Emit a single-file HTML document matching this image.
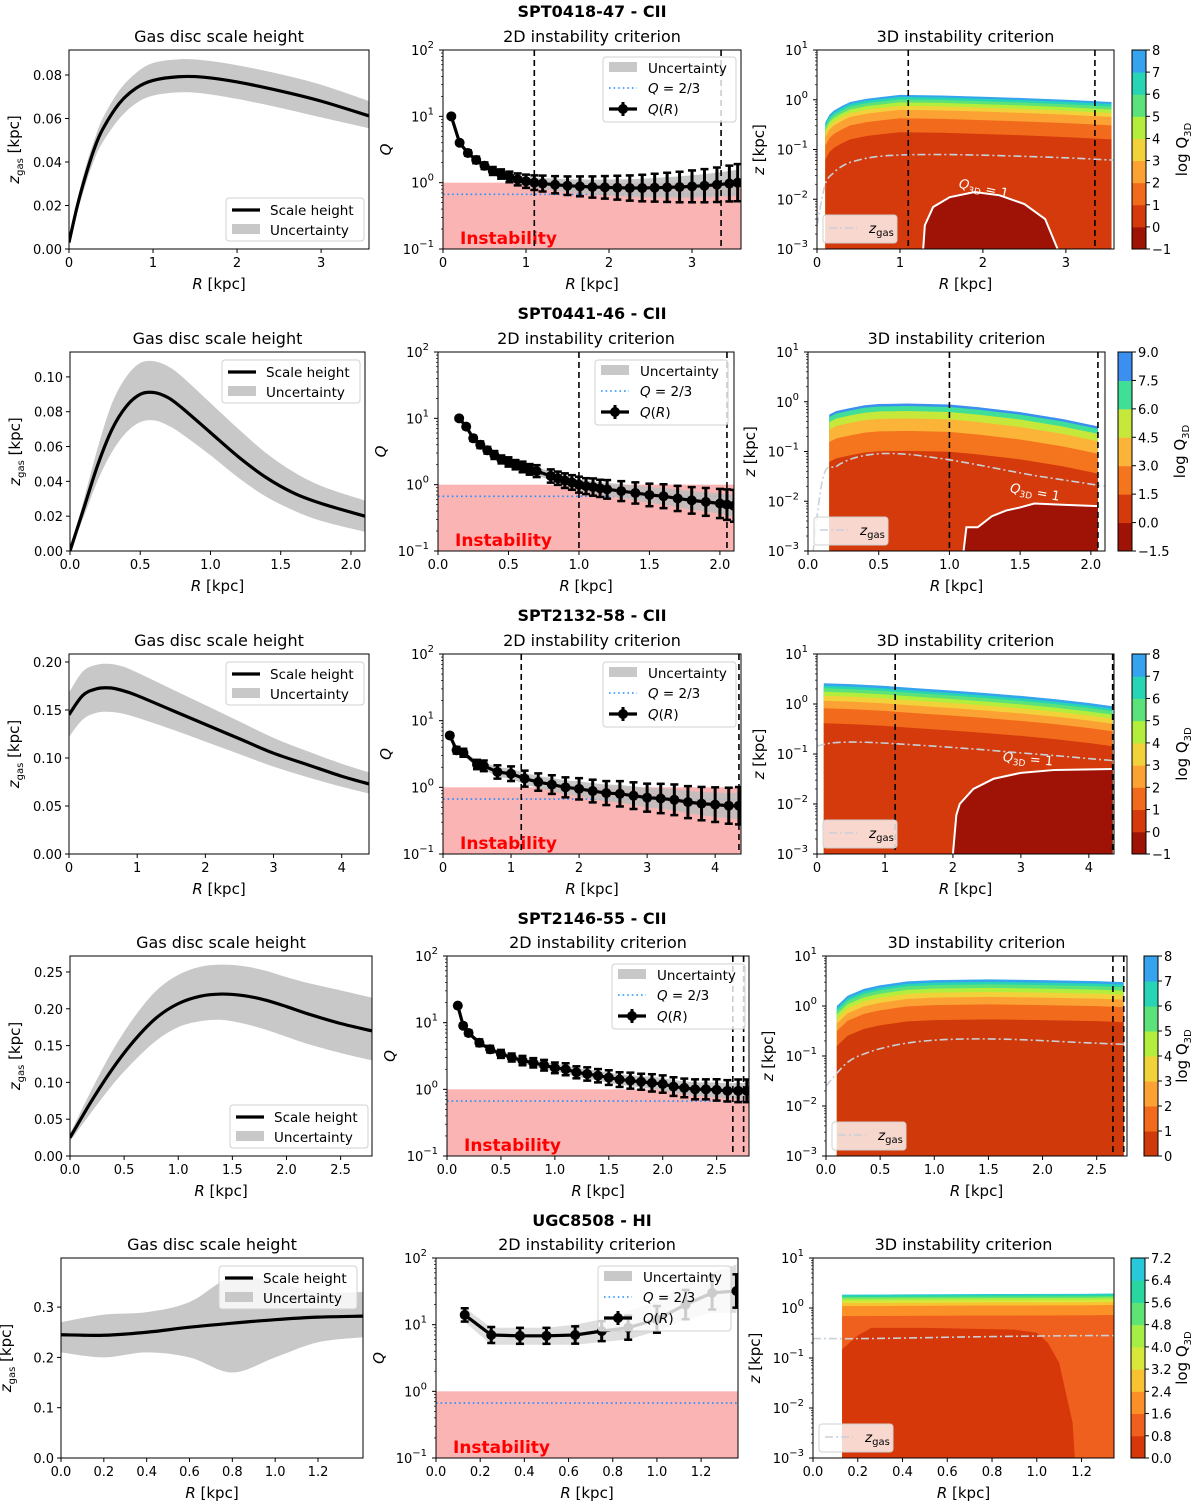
<!DOCTYPE html>
<html><head><meta charset="utf-8"><title>Instability criteria</title>
<style>
html,body{margin:0;padding:0;background:#fff;}
svg{display:block;font-family:"DejaVu Sans","Liberation Sans",sans-serif;}
</style></head>
<body>
<svg id="fig" width="1200" height="1509" viewBox="0 0 1200 1509" xmlns="http://www.w3.org/2000/svg"></svg>
<script>
// ===== Row 1: SPT0418-47 =====
const r1_R=[0,0.1,0.2,0.3,0.4,0.6,0.8,1.0,1.3,1.6,2.0,2.5,3.0,3.57];
const r1_z=[0.003,0.02,0.034,0.046,0.055,0.067,0.074,0.0775,0.0792,0.079,0.0768,0.0728,0.068,0.0612];
const r1_zlo=[0.002,0.017,0.03,0.041,0.049,0.06,0.067,0.0705,0.072,0.0715,0.069,0.065,0.0605,0.0555];
const r1_zhi=[0.004,0.023,0.038,0.05,0.06,0.073,0.081,0.0855,0.0872,0.0868,0.0845,0.0805,0.0755,0.068];
const r1_QR=[0.1,0.2,0.3,0.4,0.5,0.6,0.7,0.8,0.9,1.0,1.1,1.2,1.35,1.5,1.65,1.8,1.95,2.1,2.25,2.4,2.55,2.7,2.85,3.0,3.15,3.3,3.45,3.55];
const r1_Q=[10,4,2.8,2.2,1.8,1.5,1.35,1.22,1.12,1.05,1.0,0.97,0.93,0.9,0.88,0.86,0.85,0.84,0.83,0.83,0.84,0.85,0.86,0.88,0.9,0.93,0.97,1.0];
const r1_Qerr=[0.02,0.03,0.04,0.05,0.05,0.06,0.07,0.08,0.09,0.1,0.11,0.12,0.13,0.14,0.15,0.16,0.17,0.18,0.19,0.2,0.21,0.22,0.23,0.24,0.25,0.26,0.27,0.28];
const r1_vlines=[1.1,3.35];
const r1_R3=[0.1,0.15,0.2,0.3,0.4,0.6,0.8,1.0,1.5,2.0,2.5,3.0,3.55];
const r1_zTop=[0.35,0.5,0.6,0.75,0.9,1.05,1.15,1.25,1.22,1.15,1.08,1.0,0.9];
const r1_drops=[0,0.04,0.09,0.15,0.22,0.3,0.47,0.75];
const r1_blobR=[1.28,1.3,1.4,1.6,1.9,2.2,2.5,2.75,2.9];
const r1_blobZ=[0.001,0.003,0.007,0.011,0.014,0.012,0.008,0.004,0.001];
const r1_cbTicks=["−1","0","1","2","3","4","5","6","7","8"];
const r1_colors=["#9e1305","#d43a0b","#f26b1d","#fca234","#f2d23a","#b4ee3d","#5be27a","#27d4b5","#35a3ee"];

// ===== Row 2: SPT0441-46 =====
const r2_R=[0,0.1,0.2,0.3,0.4,0.5,0.6,0.7,0.8,1.0,1.2,1.4,1.6,1.8,2.1];
const r2_z=[0.0,0.025,0.05,0.07,0.083,0.09,0.091,0.088,0.082,0.068,0.054,0.042,0.033,0.027,0.02];
const r2_zlo=[0.0,0.02,0.041,0.057,0.068,0.074,0.075,0.072,0.067,0.055,0.042,0.031,0.023,0.017,0.011];
const r2_zhi=[0.0,0.03,0.06,0.085,0.1,0.108,0.109,0.106,0.1,0.085,0.07,0.056,0.045,0.037,0.029];
const r2_QR=[0.15,0.2,0.25,0.3,0.35,0.4,0.45,0.5,0.55,0.6,0.65,0.7,0.8,0.85,0.9,0.95,1.0,1.05,1.1,1.15,1.2,1.3,1.4,1.5,1.6,1.7,1.8,1.9,2.0,2.05,2.1];
const r2_Q=[10,7.5,5,4,3.3,2.8,2.4,2.2,2.0,1.85,1.7,1.6,1.35,1.25,1.15,1.08,1.0,0.95,0.92,0.88,0.85,0.8,0.75,0.7,0.67,0.62,0.58,0.55,0.52,0.5,0.48];
const r2_Qerr=[0.02,0.03,0.04,0.05,0.05,0.06,0.06,0.07,0.07,0.08,0.08,0.09,0.1,0.1,0.11,0.11,0.12,0.12,0.13,0.13,0.14,0.15,0.16,0.17,0.18,0.19,0.2,0.21,0.22,0.23,0.24];
const r2_vlines=[1.0,2.05];
const r2_R3=[0.15,0.2,0.3,0.4,0.5,0.7,1.0,1.2,1.5,1.8,2.05];
const r2_zTop=[0.55,0.65,0.75,0.85,0.9,0.92,0.88,0.78,0.62,0.45,0.32];
const r2_drops=[0,0.05,0.15,0.3,0.55,0.95];
const r2_blobR=[1.1,1.12,1.2,1.3,1.4,1.5,1.6,1.8,2.05];
const r2_blobZ=[0.001,0.003,0.003,0.005,0.0065,0.0075,0.009,0.0085,0.008];
const r2_cbTicks=["−1.5","0.0","1.5","3.0","4.5","6.0","7.5","9.0"];
const r2_colors=["#9e1305","#d43a0b","#f5751f","#fbb437","#c6e83b","#3fdf98","#3b8ff0"];

// ===== Row 3: SPT2132-58 =====
const r3_R=[0,0.2,0.4,0.6,0.8,1.0,1.5,2.0,2.5,3.0,3.5,4.0,4.4];
const r3_z=[0.145,0.165,0.172,0.173,0.17,0.165,0.15,0.135,0.12,0.105,0.093,0.081,0.073];
const r3_zlo=[0.122,0.14,0.147,0.148,0.146,0.142,0.13,0.117,0.104,0.091,0.08,0.07,0.063];
const r3_zhi=[0.168,0.19,0.197,0.198,0.195,0.189,0.172,0.155,0.138,0.121,0.107,0.094,0.085];
const r3_QR=[0.1,0.2,0.3,0.5,0.6,0.8,1.0,1.2,1.4,1.6,1.8,2.0,2.2,2.4,2.6,2.8,3.0,3.2,3.4,3.6,3.8,4.0,4.2,4.35];
const r3_Q=[6,3.6,3.3,2.2,2.1,1.7,1.6,1.35,1.2,1.1,1.0,0.95,0.88,0.82,0.8,0.75,0.7,0.68,0.65,0.6,0.57,0.55,0.53,0.53];
const r3_Qerr=[0.03,0.05,0.06,0.07,0.08,0.1,0.11,0.12,0.13,0.14,0.15,0.16,0.17,0.18,0.19,0.2,0.21,0.22,0.23,0.24,0.25,0.26,0.27,0.28];
const r3_vlines=[1.15,4.35];
const r3_R3=[0.1,0.5,1.0,1.5,2.0,2.5,3.0,3.5,4.0,4.35];
const r3_zTop=[2.6,2.5,2.3,2.05,1.85,1.65,1.45,1.25,1.05,0.9];
const r3_drops=[0,0.05,0.1,0.17,0.25,0.35,0.5,0.8];
const r3_blobR=[2.0,2.05,2.1,2.3,2.6,3.0,3.5,4.35];
const r3_blobZ=[0.001,0.006,0.01,0.02,0.032,0.042,0.048,0.05];
const r3_cbTicks=["−1","0","1","2","3","4","5","6","7","8"];
const r3_colors=["#9e1305","#d43a0b","#f26b1d","#fca234","#f2d23a","#b4ee3d","#5be27a","#27d4b5","#35a3ee"];

// ===== Row 4: SPT2146-55 =====
const r4_R=[0,0.2,0.4,0.6,0.8,1.0,1.2,1.4,1.6,1.8,2.0,2.2,2.5,2.79];
const r4_z=[0.025,0.075,0.12,0.158,0.188,0.207,0.217,0.22,0.218,0.212,0.203,0.193,0.18,0.17];
const r4_zlo=[0.02,0.06,0.098,0.13,0.157,0.175,0.183,0.185,0.18,0.172,0.162,0.152,0.14,0.13];
const r4_zhi=[0.03,0.09,0.145,0.19,0.225,0.246,0.257,0.26,0.258,0.252,0.243,0.235,0.225,0.215];
const r4_QR=[0.1,0.15,0.2,0.3,0.4,0.5,0.6,0.7,0.8,0.9,1.0,1.1,1.2,1.3,1.4,1.5,1.6,1.7,1.8,1.9,2.0,2.1,2.2,2.3,2.4,2.5,2.6,2.7,2.78];
const r4_Q=[18,9,7,5,4,3.4,3,2.7,2.5,2.3,2.1,2,1.8,1.7,1.6,1.5,1.4,1.35,1.3,1.25,1.2,1.1,1.05,1.0,1.0,0.98,0.95,0.95,0.95];
const r4_Qerr=[0.02,0.03,0.04,0.05,0.05,0.06,0.06,0.07,0.07,0.08,0.08,0.09,0.09,0.1,0.1,0.11,0.11,0.12,0.12,0.13,0.13,0.14,0.14,0.15,0.15,0.16,0.16,0.17,0.17];
const r4_vlines=[2.65,2.75];
const r4_R3=[0.1,0.2,0.35,0.5,0.75,1.0,1.5,2.0,2.5,2.75];
const r4_zTop=[1.0,1.6,2.2,2.6,3.1,3.3,3.4,3.3,3.15,3.0];
const r4_drops=[0,0.05,0.1,0.17,0.25,0.35,0.5,0.8];
const r4_blobR=[];
const r4_blobZ=[];
const r4_cbTicks=["0","1","2","3","4","5","6","7","8"];
const r4_colors=["#d03a0b","#f26b1d","#fca234","#f2d23a","#b4ee3d","#5be27a","#27d4b5","#35a3ee"];

// ===== Row 5: UGC8508 =====
const r5_R=[0,0.2,0.4,0.6,0.8,1.0,1.2,1.41];
const r5_z=[0.245,0.244,0.25,0.26,0.268,0.275,0.28,0.282];
const r5_zlo=[0.21,0.2,0.21,0.2,0.17,0.2,0.23,0.24];
const r5_zhi=[0.27,0.285,0.29,0.31,0.36,0.35,0.33,0.33];
const r5_QR=[0.13,0.25,0.38,0.5,0.63,0.75,0.87,1.0,1.13,1.25,1.36];
const r5_Q=[14,7,6.8,6.8,7,8,9,12,20,30,32];
const r5_Qerr=[0.1,0.12,0.12,0.12,0.13,0.15,0.18,0.2,0.22,0.25,0.25];
const r5_QbandLo=[11,5,5,5,5,5.5,6,8,12,15,15];
const r5_QbandHi=[18,9,9,9,10,12,16,22,40,60,80];
const r5_vlines=[];
const r5_R3=[0.13,0.4,0.8,1.2,1.345];
const r5_zTop=[1.85,1.87,1.9,1.92,1.95];
const r5_drops=[0,0.02,0.05,0.08,0.12,0.17,0.23,0.43];
const r5_blobR=[0.13,0.13,0.2,0.26,0.5,0.9,1.0,1.05,1.1,1.13,1.16,1.17];
const r5_blobZ=[0.001,0.15,0.28,0.4,0.4,0.37,0.32,0.2,0.08,0.02,0.005,0.001];
const r5_cbTicks=["0.0","0.8","1.6","2.4","3.2","4.0","4.8","5.6","6.4","7.2"];
const r5_colors=["#d6380a","#ef5f1d","#fb9029","#f9c233","#d8e83a","#a6ee45","#5de474","#2ad6a0","#28c8d8"];

const NS='http://www.w3.org/2000/svg';
const svg=document.getElementById('fig');
function mk(tag,attrs,parent){const e=document.createElementNS(NS,tag);for(const k in attrs)e.setAttribute(k,attrs[k]);(parent||svg).appendChild(e);return e;}
function txt(parent,x,y,str,size,anchor,extra){const t=mk('text',Object.assign({x:x,y:y,'font-size':size,'text-anchor':anchor||'middle',fill:'#000'},extra||{}),parent);t.textContent=str;return t;}
function linS(a,b,p,q){return v=>p+(v-a)/(b-a)*(q-p);}
function logS(a,b,p,q){return v=>p+(Math.log10(v)-a)/(b-a)*(q-p);}
function smooth(pts){if(pts.length<2)return '';let d='M'+pts[0][0]+','+pts[0][1];for(let i=0;i<pts.length-1;i++){const p0=pts[i-1]||pts[i],p1=pts[i],p2=pts[i+1],p3=pts[i+2]||p2;d+=' C'+(p1[0]+(p2[0]-p0[0])/6)+','+(p1[1]+(p2[1]-p0[1])/6)+' '+(p2[0]-(p3[0]-p1[0])/6)+','+(p2[1]-(p3[1]-p1[1])/6)+' '+p2[0]+','+p2[1];}return d;}
function poly(pts){return pts.map((p,i)=>(i?'L':'M')+p[0]+','+p[1]).join(' ')+' Z';}
let clipN=0;
function clipFor(g,b){const id='c'+(clipN++);const cp=mk('clipPath',{id:id},g);mk('rect',{x:b[0],y:b[1],width:b[2]-b[0],height:b[3]-b[1]},cp);const inner=mk('g',{'clip-path':'url(#'+id+')'},g);return inner;}

function xAxis(g,b,sx,ticks,dec){
  ticks.forEach(t=>{const x=sx(t);mk('line',{x1:x,x2:x,y1:b[3],y2:b[3]+4,stroke:'#000','stroke-width':1},g);txt(g,x,b[3]+18,t.toFixed(dec),13);});
  const l=txt(g,(b[0]+b[2])/2,b[3]+40,'',15);
  const i=mk('tspan',{'font-style':'italic'},l);i.textContent='R';const r=mk('tspan',{},l);r.textContent=' [kpc]';
  
  
}
function yLogAxis(g,b,sy,a,c){
  for(let e=a;e<=c;e++){const y=sy(Math.pow(10,e));mk('line',{x1:b[0]-4,x2:b[0],y1:y,y2:y,stroke:'#000'},g);
    const t=txt(g,b[0]-9,y+5,'10',13,'end');const s=mk('tspan',{dy:-7,'font-size':10},t);s.textContent=e<0?'−'+(-e):String(e);
    if(e<c)for(let m=2;m<10;m++){const ym=sy(m*Math.pow(10,e));mk('line',{x1:b[0]-2,x2:b[0],y1:ym,y2:ym,stroke:'#000','stroke-width':0.7},g);}}
}
function frame(g,b){mk('rect',{x:b[0],y:b[1],width:b[2]-b[0],height:b[3]-b[1],fill:'none',stroke:'#000','stroke-width':1},g);}
function legendBox(g,x,y,w,h){mk('rect',{x:x,y:y,width:w,height:h,rx:3,fill:'#fff','fill-opacity':0.8,stroke:'#d0d0d0','stroke-width':1},g);}

function leftPanel(cfg){
  const g=mk('g',{});
  
  
  const b=cfg.box,sx=linS(0,cfg.xmax,b[0],b[2]),sy=linS(0,cfg.ymax,b[3],b[1]);
  txt(g,(b[0]+b[2])/2,b[1]-8,'Gas disc scale height',16);
  const c=clipFor(g,b);
  const hi=cfg.R.map((r,i)=>[sx(r),sy(cfg.zhi[i])]),lo=cfg.R.map((r,i)=>[sx(r),sy(cfg.zlo[i])]).reverse();
  const band=mk('path',{d:smooth(hi)+' L'+smooth(lo).slice(1)+' Z',fill:'#c8c8c8'},c);
  
  
  const ln=mk('path',{d:smooth(cfg.R.map((r,i)=>[sx(r),sy(cfg.z[i])])),fill:'none',stroke:'#000','stroke-width':3.2},c);
  
  
  frame(g,b);
  xAxis(g,b,sx,cfg.xt,cfg.xdec);
  cfg.yt.forEach(t=>{const y=sy(t);mk('line',{x1:b[0]-4,x2:b[0],y1:y,y2:y,stroke:'#000'},g);txt(g,b[0]-7,y+5,t.toFixed(cfg.ydec),13,'end');});
  const yl=txt(g,0,0,'',15,'middle',{transform:'translate('+(b[0]-50)+','+((b[1]+b[3])/2)+') rotate(-90)'});
  const z=mk('tspan',{'font-style':'italic'},yl);z.textContent='z';const s=mk('tspan',{'font-size':10,dy:4},yl);s.textContent='gas';const k=mk('tspan',{dy:-4},yl);k.textContent=' [kpc]';
  
  
  const L=mk('g',{},g);
  
  
  const [lx,ly]=cfg.leg;legendBox(L,lx,ly,138,43);
  mk('line',{x1:lx+6,x2:lx+34,y1:ly+12,y2:ly+12,stroke:'#000','stroke-width':3.2},L);txt(L,lx+44,ly+17,'Scale height',13.5,'start');
  mk('rect',{x:lx+6,y:ly+26,width:28,height:10,fill:'#c8c8c8'},L);txt(L,lx+44,ly+37,'Uncertainty',13.5,'start');
}

function midPanel(cfg){
  const g=mk('g',{});
  
  
  const b=cfg.box,sx=linS(0,cfg.xmax,b[0],b[2]),sy=logS(-1,2,b[3],b[1]);
  txt(g,(b[0]+b[2])/2,b[1]-8,'2D instability criterion',16);
  const c=clipFor(g,b);
  mk('rect',{x:b[0],y:sy(1),width:b[2]-b[0],height:sy(0.1)-sy(1),fill:'#fbb4b4'},c);
  const it=txt(c,b[0]+17,b[3]-5,'Instability',17,'start',{fill:'#ff0000','font-weight':'bold'});
  
  
  mk('line',{x1:b[0],x2:b[2],y1:sy(2/3),y2:sy(2/3),stroke:'#1e90ff','stroke-width':1.6,'stroke-dasharray':'1.6 3'},c);
  const bl=cfg.blo||cfg.Q.map((q,i)=>q*Math.pow(10,-cfg.err[i]*0.7)),bh=cfg.bhi||cfg.Q.map((q,i)=>q*Math.pow(10,cfg.err[i]*0.7));
  const hi=cfg.R.map((r,i)=>[sx(r),sy(bh[i])]),lo=cfg.R.map((r,i)=>[sx(r),sy(bl[i])]).reverse();
  mk('path',{d:poly(hi.concat(lo)),fill:cfg.blo?'#d8d8d8':'#bdbdbd','fill-opacity':0.85},c);
  cfg.vl.forEach(v=>mk('line',{x1:sx(v),x2:sx(v),y1:b[1],y2:b[3],stroke:'#000','stroke-width':1.6,'stroke-dasharray':'6 4'},c));
  const ql=mk('path',{d:poly(cfg.R.map((r,i)=>[sx(r),sy(cfg.Q[i])])).slice(0,-2),fill:'none',stroke:'#000','stroke-width':3.2},c);
  
  
  cfg.R.forEach((r,i)=>{const x=sx(r),y1=sy(cfg.Q[i]*Math.pow(10,cfg.err[i])),y2=sy(cfg.Q[i]*Math.pow(10,-cfg.err[i]));
    mk('line',{x1:x,x2:x,y1:y1,y2:y2,stroke:'#000','stroke-width':3},c);
    mk('line',{x1:x-4,x2:x+4,y1:y1,y2:y1,stroke:'#000','stroke-width':2.5},c);
    mk('line',{x1:x-4,x2:x+4,y1:y2,y2:y2,stroke:'#000','stroke-width':2.5},c);
    const m=mk('circle',{cx:x,cy:sy(cfg.Q[i]),r:5,fill:'#000'},c);
    
    });
  frame(g,b);
  xAxis(g,b,sx,cfg.xt,cfg.xdec);
  yLogAxis(g,b,sy,-1,2);
  const yl=txt(g,0,0,'Q',15,'middle',{'font-style':'italic',transform:'translate('+(b[0]-52)+','+((b[1]+b[3])/2)+') rotate(-90)'});
  
  
  const L=mk('g',{},g);
  
  
  const [lx,ly]=cfg.leg;legendBox(L,lx,ly,133,65);
  mk('rect',{x:lx+6,y:ly+5,width:28,height:10,fill:'#c8c8c8'},L);txt(L,lx+45,ly+16,'Uncertainty',13.5,'start');
  mk('line',{x1:lx+6,x2:lx+34,y1:ly+31,y2:ly+31,stroke:'#1e90ff','stroke-width':1.6,'stroke-dasharray':'1.6 3'},L);
  const t2=txt(L,lx+45,ly+36,'',13.5,'start');const a=mk('tspan',{'font-style':'italic'},t2);a.textContent='Q';const a2=mk('tspan',{},t2);a2.textContent=' = 2/3';
  mk('line',{x1:lx+6,x2:lx+34,y1:ly+52,y2:ly+52,stroke:'#000','stroke-width':3.2},L);
  mk('line',{x1:lx+20,x2:lx+20,y1:ly+45,y2:ly+59,stroke:'#000','stroke-width':3},L);
  mk('circle',{cx:lx+20,cy:ly+52,r:5,fill:'#000'},L);
  const t3=txt(L,lx+45,ly+57,'',13.5,'start');const q=mk('tspan',{'font-style':'italic'},t3);q.textContent='Q';const q2=mk('tspan',{},t3);q2.textContent='(';const q3=mk('tspan',{'font-style':'italic'},t3);q3.textContent='R';const q4=mk('tspan',{},t3);q4.textContent=')';
}

function rightPanel(cfg){
  const g=mk('g',{});
  
  
  const b=cfg.box,sx=linS(0,cfg.xmax,b[0],b[2]),sy=logS(-3,1,b[3],b[1]);
  txt(g,(b[0]+b[2])/2,b[1]-8,'3D instability criterion',16);
  const c=clipFor(g,b);
  const n=cfg.drops.length,cols=cfg.colors;
  for(let k=0;k<n;k++){
    const col=cols[cols.length-1-k];
    const top=cfg.R3.map((r,i)=>[sx(r),sy(cfg.zTop[i]*Math.pow(10,-cfg.drops[k]))]);
    const pts=top.concat([[sx(cfg.R3[cfg.R3.length-1]),b[3]+2],[sx(cfg.R3[0]),b[3]+2]]);
    const p=mk('path',{d:poly(pts),fill:col},c);
    
    
  }
  if(cfg.blobR.length){
    const bp=cfg.blobR.map((r,i)=>[sx(r),sy(cfg.blobZ[i])]);
    const pts=bp.concat([[bp[bp.length-1][0],b[3]+2],[bp[0][0],b[3]+2]]);
    const bl=mk('path',{d:poly(pts),fill:cols[0]},c);
    
    
    if(cfg.lab){
      mk('path',{d:poly(bp).slice(0,-2),fill:'none',stroke:'#fff','stroke-width':2},c);
      const lx=sx(cfg.lab[0]),ly=sy(cfg.lab[1]);
      const t=txt(c,lx,ly,'',13,'middle',{fill:'#fff',transform:'rotate('+cfg.lab[2]+' '+lx+' '+ly+')'});
      const q=mk('tspan',{'font-style':'italic'},t);q.textContent='Q';const s=mk('tspan',{'font-size':9,dy:3},t);s.textContent='3D';const e=mk('tspan',{dy:-3},t);e.textContent=' = 1';
      
      
    }
  }
  const zg=mk('path',{d:smooth(cfg.R.map((r,i)=>[sx(r),sy(Math.max(cfg.z[i],1e-4))])),fill:'none',stroke:'#c8d0d8','stroke-width':1.6,'stroke-dasharray':'8 3 2 3'},c);
  
  
  cfg.vl.forEach(v=>mk('line',{x1:sx(v),x2:sx(v),y1:b[1],y2:b[3],stroke:'#000','stroke-width':1.6,'stroke-dasharray':'6 4'},c));
  frame(g,b);
  xAxis(g,b,sx,cfg.xt,cfg.xdec);
  yLogAxis(g,b,sy,-3,1);
  const yl=txt(g,0,0,'',15,'middle',{transform:'translate('+(b[0]-53)+','+((b[1]+b[3])/2)+') rotate(-90)'});
  const zz=mk('tspan',{'font-style':'italic'},yl);zz.textContent='z';const kk=mk('tspan',{},yl);kk.textContent=' [kpc]';
  
  
  const L=mk('g',{},g);
  
  
  const lx=b[0]+6,ly=b[3]-34;legendBox(L,lx,ly,74,28);
  mk('line',{x1:lx+6,x2:lx+34,y1:ly+13,y2:ly+13,stroke:'#c8d0d8','stroke-width':1.6,'stroke-dasharray':'8 3 2 3'},L);
  const t=txt(L,lx+46,ly+18,'',13.5,'start');const z1=mk('tspan',{'font-style':'italic'},t);z1.textContent='z';const z2=mk('tspan',{'font-size':10,dy:3},t);z2.textContent='gas';
  const cb=mk('g',{},g);
  
  
  const cx=cfg.cbx,nb=cols.length,h=(b[3]-b[1])/nb;
  cols.forEach((col,i)=>mk('rect',{x:cx,y:b[3]-(i+1)*h,width:14,height:h+0.5,fill:col},cb));
  mk('rect',{x:cx,y:b[1],width:14,height:b[3]-b[1],fill:'none',stroke:'#000'},cb);
  cfg.cbTicks.forEach((lab,i)=>{const y=b[3]-i*h;mk('line',{x1:cx+14,x2:cx+18,y1:y,y2:y,stroke:'#000'},cb);txt(cb,cx+20,y+5,lab,13,'start');});
  const lt=txt(cb,0,0,'log Q',15,'middle',{transform:'translate('+cfg.cbLabX+','+((b[1]+b[3])/2)+') rotate(-90)'});
  const sb=mk('tspan',{'font-size':10,dy:4},lt);sb.textContent='3D';
}

function rowTitle(y,str){const t=txt(svg,592,y,str,16,'middle',{'font-weight':'bold'});
  
  }

const rows=[
 {t:'SPT0418-47 - CII',ty:17,
  L:{box:[69,50,369,249],xmax:3.57,ymax:0.0915,xt:[0,1,2,3],xdec:0,yt:[0,0.02,0.04,0.06,0.08],ydec:2,leg:[226,198],R:r1_R,z:r1_z,zlo:r1_zlo,zhi:r1_zhi},
  M:{box:[443,50,741,249],xmax:3.59,xt:[0,1,2,3],xdec:0,R:r1_QR,Q:r1_Q,err:r1_Qerr,vl:r1_vlines,leg:[603,57]},
  Rt:{box:[817,50,1114,249],xmax:3.58,xt:[0,1,2,3],xdec:0,R3:r1_R3,zTop:r1_zTop,drops:r1_drops,blobR:r1_blobR,blobZ:r1_blobZ,lab:[2.0,0.0135,12],colors:r1_colors,cbTicks:r1_cbTicks,vl:r1_vlines,R:r1_R,z:r1_z,cbx:1132,cbLabX:1187}},
 {t:'SPT0441-46 - CII',ty:319,
  L:{box:[70,352,365,551],xmax:2.1,ymax:0.1143,xt:[0,0.5,1,1.5,2],xdec:1,yt:[0,0.02,0.04,0.06,0.08,0.1],ydec:2,leg:[222,360],R:r2_R,z:r2_z,zlo:r2_zlo,zhi:r2_zhi},
  M:{box:[438,352,734,551],xmax:2.1,xt:[0,0.5,1,1.5,2],xdec:1,R:r2_QR,Q:r2_Q,err:r2_Qerr,vl:r2_vlines,leg:[595,360]},
  Rt:{box:[808,352,1105,551],xmax:2.1,xt:[0,0.5,1,1.5,2],xdec:1,R3:r2_R3,zTop:r2_zTop,drops:r2_drops,blobR:r2_blobR,blobZ:r2_blobZ,lab:[1.6,0.0125,10],colors:r2_colors,cbTicks:r2_cbTicks,vl:r2_vlines,R:r2_R,z:r2_z,cbx:1118,cbLabX:1185}},
 {t:'SPT2132-58 - CII',ty:621,
  L:{box:[69,654,369,854],xmax:4.4,ymax:0.2083,xt:[0,1,2,3,4],xdec:0,yt:[0,0.05,0.1,0.15,0.2],ydec:2,leg:[226,662],R:r3_R,z:r3_z,zlo:r3_zlo,zhi:r3_zhi},
  M:{box:[443,654,741,854],xmax:4.38,xt:[0,1,2,3,4],xdec:0,R:r3_QR,Q:r3_Q,err:r3_Qerr,vl:r3_vlines,leg:[603,662]},
  Rt:{box:[817,654,1114,854],xmax:4.37,xt:[0,1,2,3,4],xdec:0,R3:r3_R3,zTop:r3_zTop,drops:r3_drops,blobR:r3_blobR,blobZ:r3_blobZ,lab:[3.1,0.065,5],colors:r3_colors,cbTicks:r3_cbTicks,vl:r3_vlines,R:r3_R,z:r3_z,cbx:1132,cbLabX:1187}},
 {t:'SPT2146-55 - CII',ty:924,
  L:{box:[70,956,372,1156],xmax:2.79,ymax:0.2717,xt:[0,0.5,1,1.5,2,2.5],xdec:1,yt:[0,0.05,0.1,0.15,0.2,0.25],ydec:2,leg:[230,1105],R:r4_R,z:r4_z,zlo:r4_zlo,zhi:r4_zhi},
  M:{box:[447,956,749,1156],xmax:2.8,xt:[0,0.5,1,1.5,2,2.5],xdec:1,R:r4_QR,Q:r4_Q,err:r4_Qerr,vl:r4_vlines,leg:[612,964]},
  Rt:{box:[826,956,1127,1156],xmax:2.78,xt:[0,0.5,1,1.5,2,2.5],xdec:1,R3:r4_R3,zTop:r4_zTop,drops:r4_drops,blobR:r4_blobR,blobZ:r4_blobZ,colors:r4_colors,cbTicks:r4_cbTicks,vl:r4_vlines,R:r4_R,z:r4_z,cbx:1144,cbLabX:1187}},
 {t:'UGC8508 - HI',ty:1226,
  L:{box:[61,1258,363,1458],xmax:1.41,ymax:0.3976,xt:[0,0.2,0.4,0.6,0.8,1.0,1.2],xdec:1,yt:[0,0.1,0.2,0.3],ydec:1,leg:[219,1266],R:r5_R,z:r5_z,zlo:r5_zlo,zhi:r5_zhi},
  M:{box:[436,1258,738,1458],xmax:1.367,xt:[0,0.2,0.4,0.6,0.8,1.0,1.2],xdec:1,R:r5_QR,Q:r5_Q,err:r5_Qerr,blo:r5_QbandLo,bhi:r5_QbandHi,vl:r5_vlines,leg:[598,1266]},
  Rt:{box:[813,1258,1114,1458],xmax:1.345,xt:[0,0.2,0.4,0.6,0.8,1.0,1.2],xdec:1,R3:r5_R3,zTop:r5_zTop,drops:r5_drops,blobR:r5_blobR,blobZ:r5_blobZ,colors:r5_colors,cbTicks:r5_cbTicks,vl:r5_vlines,R:r5_R,z:r5_z,cbx:1131,cbLabX:1187}}
];
rows.forEach(r=>{rowTitle(r.ty,r.t);leftPanel(r.L);midPanel(r.M);rightPanel(r.Rt);});
</script>
</body></html>
